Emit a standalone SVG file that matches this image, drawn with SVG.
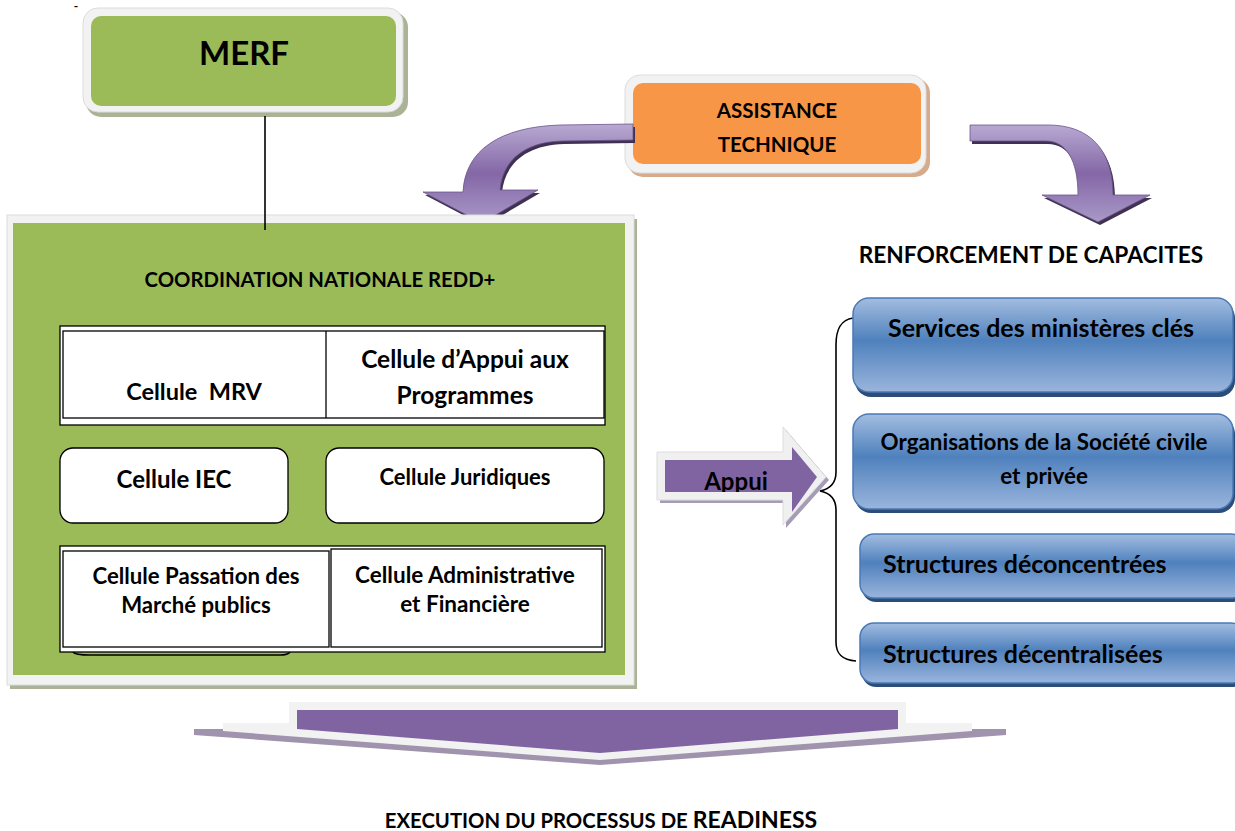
<svg xmlns="http://www.w3.org/2000/svg" width="1235" height="831" viewBox="0 0 1235 831">
<style>
  text { font-family: Lato, "Liberation Sans", sans-serif; font-weight: bold; fill: #000; text-anchor: middle; }
  .frame { fill: #f2f2f2; stroke: #dcdcdc; stroke-width: 1; }
  .green { fill: #9bbb59; }
  .cell { fill: #ffffff; stroke: #000; stroke-width: 1.3; }
  .blue { fill: url(#blueGrad); stroke: #4a7ab5; stroke-width: 1.5; }
  .blueShadow { fill: #2b4d78; }
  .arrowShadow { fill: #3f3151; }
  .conn { fill: none; stroke: #000; stroke-width: 1.6; }
</style>
<defs>
  <linearGradient id="blueGrad" x1="0" y1="0" x2="0" y2="1">
    <stop offset="0" stop-color="#a3bde0"/>
    <stop offset="0.45" stop-color="#4f81bd"/>
    <stop offset="1" stop-color="#9ab5dc"/>
  </linearGradient>
  <linearGradient id="purpleGrad" x1="0" y1="0" x2="0" y2="1">
    <stop offset="0" stop-color="#b8a9d2"/>
    <stop offset="0.5" stop-color="#8467a6"/>
    <stop offset="1" stop-color="#a999c8"/>
  </linearGradient>
  <clipPath id="appuiClip"><rect x="665" y="460" width="127" height="32"/></clipPath>
</defs>

<!-- small dash top-left -->
<text x="76" y="10" style="font-size:12px">-</text>

<g id="merf">
  <rect x="86" y="12" width="322" height="105" rx="15" fill="#aab395"/>
  <rect class="frame" x="83" y="8" width="320" height="104" rx="15"/>
  <rect class="green" x="91" y="16" width="305" height="90" rx="10"/>
  <text x="244" y="65" style="font-size:33px">MERF</text>
</g>

<g id="assistance">
  <rect x="628" y="78" width="302" height="99" rx="15" fill="#d5ab8c"/>
  <rect class="frame" x="625" y="75" width="301" height="98" rx="15"/>
  <rect x="633" y="83" width="288" height="81" rx="10" fill="#f79646"/>
  <text x="777" y="118" style="font-size:20.5px">ASSISTANCE</text>
  <text x="777" y="152" style="font-size:20.5px">TECHNIQUE</text>
</g>

<g id="arrow-left">
  <path class="arrowShadow" transform="translate(2,3)" d="M633,124 L560,125 C500,127 465,150 463,192 L423,192 L482,223 L538,190 L500,190 C502,163 522,142 562,141 L633,140 Z"/>
  <path fill="url(#purpleGrad)" stroke="#6b558c" stroke-width="0.8" d="M633,124 L560,125 C500,127 465,150 463,192 L423,192 L482,223 L538,190 L500,190 C502,163 522,142 562,141 L633,140 Z"/>
</g>

<g id="arrow-right">
  <path class="arrowShadow" transform="translate(2,3)" d="M970,125 L1048,125 C1090,125 1113,150 1113,195 L1150,195 L1098,222 L1042,195 L1078,195 C1078,160 1066,141 1046,141 L970,141 Z"/>
  <path fill="url(#purpleGrad)" stroke="#6b558c" stroke-width="0.8" d="M970,125 L1048,125 C1090,125 1113,150 1113,195 L1150,195 L1098,222 L1042,195 L1078,195 C1078,160 1066,141 1046,141 L970,141 Z"/>
</g>

<g id="coordination">
  <rect x="10" y="219" width="627" height="470" fill="#aab395"/>
  <rect class="frame" x="7" y="215" width="627" height="470"/>
  <rect class="green" x="13" y="223" width="612" height="452"/>
  <text x="320" y="287" style="font-size:20.3px">COORDINATION NATIONALE REDD+</text>
</g>

<g id="connectors">
  <line class="conn" x1="265" y1="116" x2="265" y2="230"/>
  <path class="conn" d="M853,318 C840,320 836,330 836,345 L836,472 C836,484 830,489 820,491 C830,493 836,498 836,510 L836,642 C836,654 842,660 856,661"/>
</g>

<g id="cellule-mrv-appui">
  <rect class="cell" x="60" y="326" width="545" height="99"/>
  <rect class="cell" x="63" y="331" width="541" height="87"/>
  <line x1="326" y1="331" x2="326" y2="418" stroke="#000" stroke-width="1.3"/>
  <text x="194" y="400" xml:space="preserve" style="font-size:23.5px">Cellule  MRV</text>
  <text x="465" y="368" style="font-size:24.5px">Cellule d’Appui aux</text>
  <text x="465" y="404" style="font-size:24.5px">Programmes</text>
</g>

<g id="cellule-iec">
  <rect class="cell" x="60" y="448" width="228" height="75" rx="13"/>
  <text x="174" y="488" style="font-size:24px">Cellule IEC</text>
</g>

<g id="cellule-juridiques">
  <rect class="cell" x="326" y="448" width="278" height="75" rx="13"/>
  <text x="465" y="485" style="font-size:22px">Cellule Juridiques</text>
</g>

<g id="cellule-passation-admin">
  <path d="M73,652 Q75,655 90,655 L280,655 Q288,655 290,652" fill="none" stroke="#000" stroke-width="1.5"/>
  <rect class="cell" x="60" y="546" width="545" height="106"/>
  <rect class="cell" x="63" y="551" width="266" height="96"/>
  <rect class="cell" x="331" y="549" width="271" height="98"/>
  <text x="196" y="584" style="font-size:22.2px">Cellule Passation des</text>
  <text x="196" y="613" style="font-size:22.2px">Marché publics</text>
  <text x="465" y="583" style="font-size:22.5px">Cellule Administrative</text>
  <text x="465" y="612" style="font-size:22.5px">et Financière</text>
</g>

<text x="1031" y="263" style="font-size:22.7px">RENFORCEMENT DE CAPACITES</text>

<g id="appui">
  <path fill="#a69cb6" transform="translate(3,3)" d="M657,452 L783,452 L783,427 L826,477 L783,525 L783,500 L657,500 Z"/>
  <path fill="#f0f0f0" stroke="#dddddd" stroke-width="1" d="M657,452 L783,452 L783,427 L826,477 L783,525 L783,500 L657,500 Z"/>
  <path fill="#8064a2" d="M665,460 L792,460 L792,447 L817,477 L792,512 L792,492 L665,492 Z"/>
  <text x="736" y="490" clip-path="url(#appuiClip)" style="font-size:24px">Appui</text>
</g>

<g id="services">
  <rect class="blueShadow" x="855" y="302" width="380" height="95" rx="16"/>
  <rect class="blue" x="853" y="298" width="380" height="94" rx="16"/>
  <text x="1041" y="337" style="font-size:25px">Services des ministères clés</text>
</g>

<g id="organisations">
  <rect class="blueShadow" x="855" y="418" width="380" height="95" rx="16"/>
  <rect class="blue" x="853" y="414" width="380" height="95" rx="16"/>
  <text x="1044" y="450" style="font-size:22.4px">Organisations de la Société civile</text>
  <text x="1044" y="484" style="font-size:22.4px">et privée</text>
</g>

<g id="deconcentrees">
  <rect class="blueShadow" x="862" y="538" width="385" height="64" rx="14"/>
  <rect class="blue" x="860" y="534" width="385" height="64" rx="14"/>
  <text x="883" y="573" style="font-size:25px;text-anchor:start">Structures déconcentrées</text>
</g>

<g id="decentralisees">
  <rect class="blueShadow" x="862" y="627" width="385" height="60" rx="14"/>
  <rect class="blue" x="860" y="623" width="385" height="60" rx="14"/>
  <text x="883" y="663" style="font-size:25px;text-anchor:start">Structures décentralisées</text>
</g>

<g id="execution-arrow">
  <path fill="#a093ad" d="M194,729 L290,729 L290,735 L906,735 L906,729 L1006,729 L1006,735 L600,765 L194,735 Z"/>
  <path fill="#f2f2f2" d="M289,702 L906,702 L906,723 L972,723 L972,731 L600,760 L223,731 L223,723 L289,723 Z"/>
  <path fill="#8064a2" d="M297,710 L898,710 L898,729 L600,753 L297,729 Z"/>
</g>

<text x="601" y="828" style="font-size:20.3px">EXECUTION DU PROCESSUS DE <tspan style="font-size:23px">READINESS</tspan></text>
</svg>
